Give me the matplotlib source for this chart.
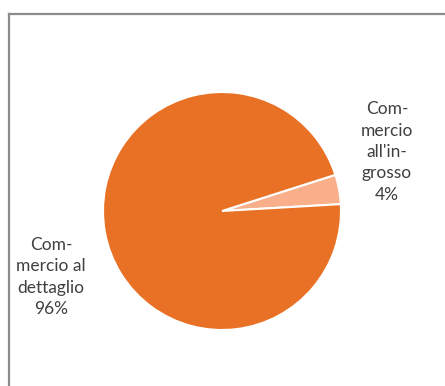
import matplotlib
matplotlib.use("Agg")
from matplotlib import pyplot as plt
from matplotlib.lines import Line2D

labels = ["Com-\nmercio\nall'in-\ngrosso", "Com-\nmercio al\ndettaglio"]
shares = [4, 96]
colors = ["#F8AF8A", "#E97125"]

W, H = 445, 386
fig = plt.figure(figsize=(W / 100, H / 100), dpi=100)

# gray frame, right and bottom edges run off the picture
fx, fy = 8.5 / W, 1 - 13.5 / H
fig.add_artist(Line2D([fx, fx], [fy, -0.1], color="#8C8C8C", lw=1.6, transform=fig.transFigure))
fig.add_artist(Line2D([fx, 1.1], [fy, fy], color="#8C8C8C", lw=1.6, transform=fig.transFigure))

cx, cy, r = 222, 211, 119
ax = fig.add_axes([(cx - r) / W, (H - cy - r) / H, 2 * r / W, 2 * r / H])
ax.pie(shares, colors=colors, startangle=3.3, counterclock=True,
       wedgeprops=dict(edgecolor="white", linewidth=1.5))
ax.set_xlim(-1, 1)
ax.set_ylim(-1, 1)
ax.set_aspect("equal")
ax.axis("off")

pos = [(387, 152), (51, 277)]
for lab, v, (x, y) in zip(labels, shares, pos):
    fig.text(x / W, 1 - y / H, f"{lab}\n{v}%", ha="center", va="center",
             fontsize=12.5, color="#404040", linespacing=1.42, family="Lato")

fig.savefig("out.png", dpi=100)
